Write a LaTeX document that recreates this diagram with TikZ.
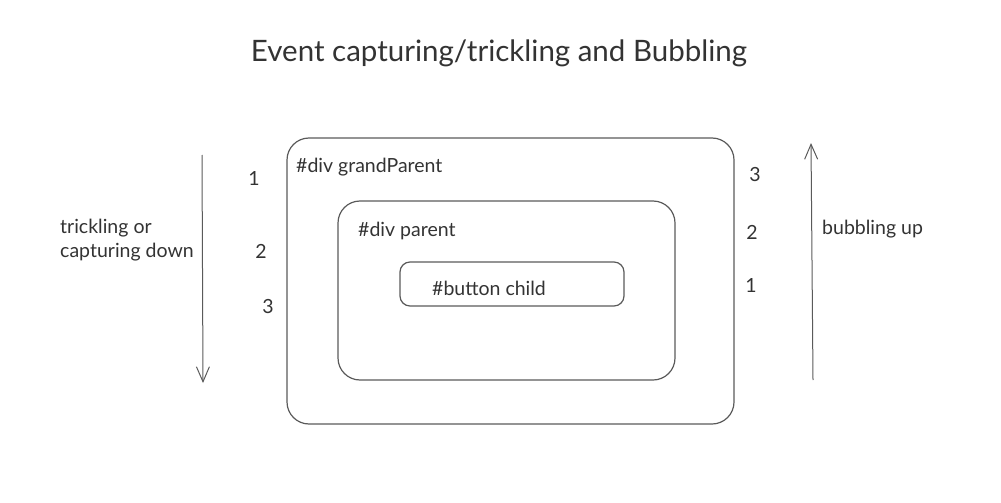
\documentclass[tikz,border=0pt]{standalone}
\usepackage{fontspec}
\setmainfont{Lato}
\usetikzlibrary{arrows.meta}
\definecolor{ln}{HTML}{5a5a5a}
\definecolor{tx}{HTML}{333333}
\tikzset{
  box/.style={draw=ln, line width=1.2pt, rounded corners=#1},
  lbl/.style={text=tx, font=\fontsize{19.5}{24}\selectfont, inner sep=0pt},
  flow/.style={draw=ln, line width=1pt, -{Straight Barb[length=15pt,width=13pt]}}
}
\begin{document}
\begin{tikzpicture}[x=1pt,y=-1pt]
\useasboundingbox (0,0) rectangle (1001,503);
\node[text=tx, font=\fontsize{29.5}{34}\selectfont, inner sep=0pt] (title) at (499,53) {Event capturing/trickling and Bubbling};
\draw[box=22pt] (287,138) rectangle (734,424);
\draw[box=22pt] (338,201) rectangle (675,380);
\draw[box=10pt] (400,262) rectangle (624,306);
\node[lbl, anchor=west] (gp) at (296,167.5) {\#div grandParent};
\node[lbl, anchor=west] (par) at (358,231) {\#div parent};
\node[lbl, anchor=west] (btn) at (432,288) {\#button child};
\coordinate (ls) at (202,155);
\coordinate (le) at (203,383);
\draw[flow] (ls) -- (le);
\coordinate (rs) at (813,380);
\coordinate (re) at (811,143);
\draw[flow] (rs) -- (re);
\node[lbl, anchor=west, align=left] (tl) at (60,240.5) {trickling or\\capturing down};
\node[lbl, anchor=west] (bu) at (822,229) {bubbling up};
\node[lbl] (l1) at (254,178) {1};
\node[lbl] (l2) at (261,251) {2};
\node[lbl] (l3) at (268,307) {3};
\node[lbl] (r3) at (755,175) {3};
\node[lbl] (r2) at (752,232) {2};
\node[lbl] (r1) at (751,285) {1};
\end{tikzpicture}
\end{document}
